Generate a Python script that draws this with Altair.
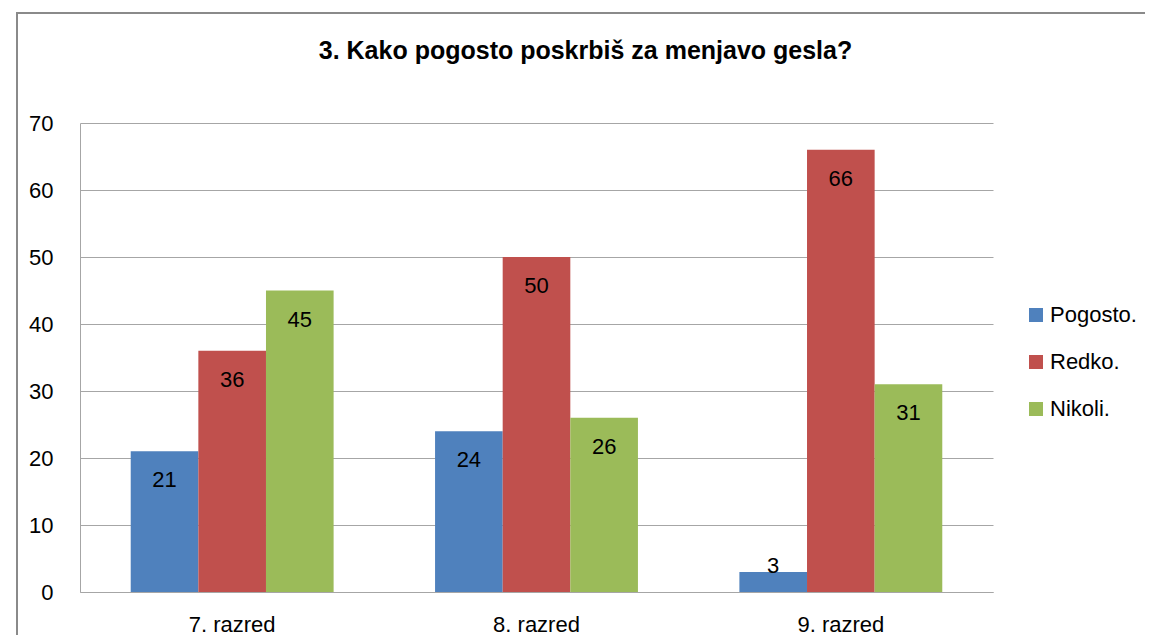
import altair as alt
import pandas as pd

grades = ["7. razred", "8. razred", "9. razred"]
series = ["Pogosto.", "Redko.", "Nikoli."]
pogosto = [21, 24, 3]
redko = [36, 50, 66]
nikoli = [45, 26, 31]
colors = ["#4F81BD", "#C0504D", "#9BBB59"]
y_ticks = [0, 10, 20, 30, 40, 50, 60, 70]
title_text = "3. Kako pogosto poskrbiš za menjavo gesla?"

rows = []
for s, vals in zip(series, [pogosto, redko, nikoli]):
    for g, v in zip(grades, vals):
        rows.append({"grade": g, "series": s, "value": v})
df = pd.DataFrame(rows)

FONT = "Liberation Sans, Arial, sans-serif"
GRID = "#a6a6a6"
FS = 22

x_enc = alt.X("grade:N", sort=grades,
              scale=alt.Scale(paddingInner=1/3, paddingOuter=1/6),
              axis=alt.Axis(title=None, labelAngle=0, ticks=False, tickSize=0,
                            labelPadding=39, labelBaseline="alphabetic",
                            domainColor=GRID, labelColor="black",
                            labelFont=FONT, labelFontSize=FS))
xo_enc = alt.XOffset("series:N", sort=series,
                     scale=alt.Scale(paddingInner=0, paddingOuter=0))
y_enc = alt.Y("value:Q", scale=alt.Scale(domain=[0, 70], nice=False),
              axis=alt.Axis(title=None, values=y_ticks, grid=True, gridColor=GRID,
                            domainColor=GRID, ticks=False, tickSize=0, labelPadding=27,
                            labelColor="black", labelFont=FONT, labelFontSize=FS))

base = alt.Chart(df)

bars = base.mark_bar().encode(
    x=x_enc, xOffset=xo_enc, y=y_enc,
    color=alt.Color("series:N", sort=series,
                    scale=alt.Scale(domain=series, range=colors),
                    legend=alt.Legend(title=None, orient="none", legendX=945, legendY=181,
                                      symbolType="square", symbolSize=196, symbolStrokeWidth=0,
                                      labelFont=FONT, labelFontSize=FS, labelColor="black",
                                      rowPadding=25, labelOffset=3, padding=0)),
)

labels_in = base.transform_filter(alt.datum.value >= 10).mark_text(
    dy=29, baseline="middle", font=FONT, fontSize=FS, color="black"
).encode(x=x_enc, xOffset=xo_enc, y=y_enc, text="value:Q")

labels_out = base.transform_filter(alt.datum.value < 10).mark_text(
    dy=-6, baseline="middle", font=FONT, fontSize=FS, color="black"
).encode(x=x_enc, xOffset=xo_enc, y=y_enc, text="value:Q")

border = alt.Chart(pd.DataFrame({"a": [0]})).mark_rect(
    fillOpacity=0, stroke="#8a8a8a", strokeWidth=2
).encode(x=alt.value(-63), x2=alt.value(1300), y=alt.value(-110), y2=alt.value(1000))

chart = alt.layer(border, bars, labels_in, labels_out).properties(
    width=913, height=469,
    title=alt.TitleParams(title_text, font=FONT, fontSize=25, fontWeight="bold",
                          color="black", anchor="middle", frame="group", dx=49,
                          baseline="alphabetic", offset=-72),
    autosize=alt.AutoSizeParams(type="none"),
    padding={"left": 72, "top": 115, "right": 152, "bottom": 43},
).configure_view(stroke=None)

chart.save("out.html", embed_options={"renderer": "svg", "actions": False})
